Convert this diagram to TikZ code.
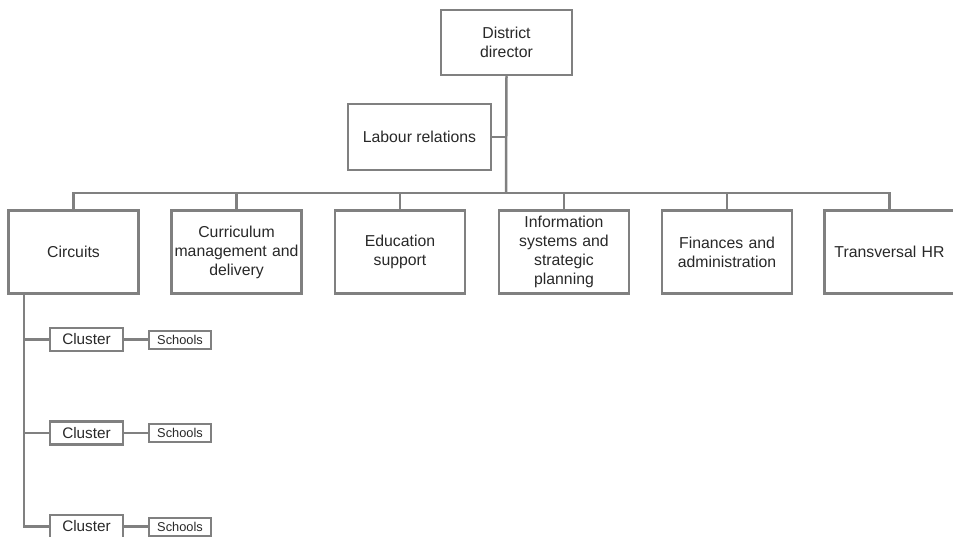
\documentclass[tikz,border=0pt]{standalone}
\usepackage{fontspec}
\setmainfont{Liberation Sans}
\definecolor{linegray}{RGB}{128,128,128}
\definecolor{textgray}{RGB}{40,40,40}
\tikzset{
  box/.style={draw=linegray, line width=2.5pt, inner sep=0pt, align=center,
    text=textgray, font=\fontsize{15.8}{19}\selectfont},
  dept/.style={box, minimum width=130pt, minimum height=83pt, text width=124pt},
  clusterbox/.style={box, minimum width=73pt, minimum height=23pt,
    font=\fontsize{15.3}{18}\selectfont},
  schoolbox/.style={box, line width=2pt, minimum width=62pt, minimum height=18pt,
    font=\fontsize{12.8}{14}\selectfont},
  link/.style={draw=linegray, line width=2.5pt}
}
\begin{document}
\begin{tikzpicture}[x=1pt, y=-1pt]
    \useasboundingbox (0,0) rectangle (953,537);
    \clip (0,0) rectangle (953,537);
    % top
    \node[box, minimum width=131pt, minimum height=65pt] (dir) at (506.5,42.5) {District\\director};
    \node[box, minimum width=143pt, minimum height=66pt] (lab) at (419.5,137) {Labour relations};
    \coordinate (bus) at (506,193);
    \draw[link] (dir.south) -- (bus);
    \draw[link] (lab.east) -- (lab.east -| dir.south);
    % departments
    \node[dept] (circ) at (73.5,252)  {Circuits};
    \node[dept] (curr) at (236.5,252) {Curriculum\\management and\\delivery};
    \node[dept] (edu)  at (400,252)   {Education\\support};
    \node[dept] (info) at (564,252)   {Information\\systems and\\strategic\\planning};
    \node[dept] (fin)  at (727,252)   {Finances and\\administration};
    \node[dept] (hr)   at (889.5,252) {Transversal HR};
    \foreach \d in {circ,curr,edu,info,fin,hr}
        \draw[link] (bus) -| (\d.north);
    % circuits
    \coordinate (trunk) at (24,295);
    \foreach \i/\y in {1/339.5,2/433,3/526.5} {
        \node[clusterbox] (cl\i) at (86.5,\y) {Cluster};
        \node[schoolbox] (sc\i) at (180,\y) {Schools};
        \draw[link] (cl\i.east) -- (sc\i.west);
    }
    \draw[link] (trunk) |- (cl3.west);
    \draw[link] (cl1.west) -- (cl1.west -| trunk);
    \draw[link] (cl2.west) -- (cl2.west -| trunk);
\end{tikzpicture}
\end{document}
